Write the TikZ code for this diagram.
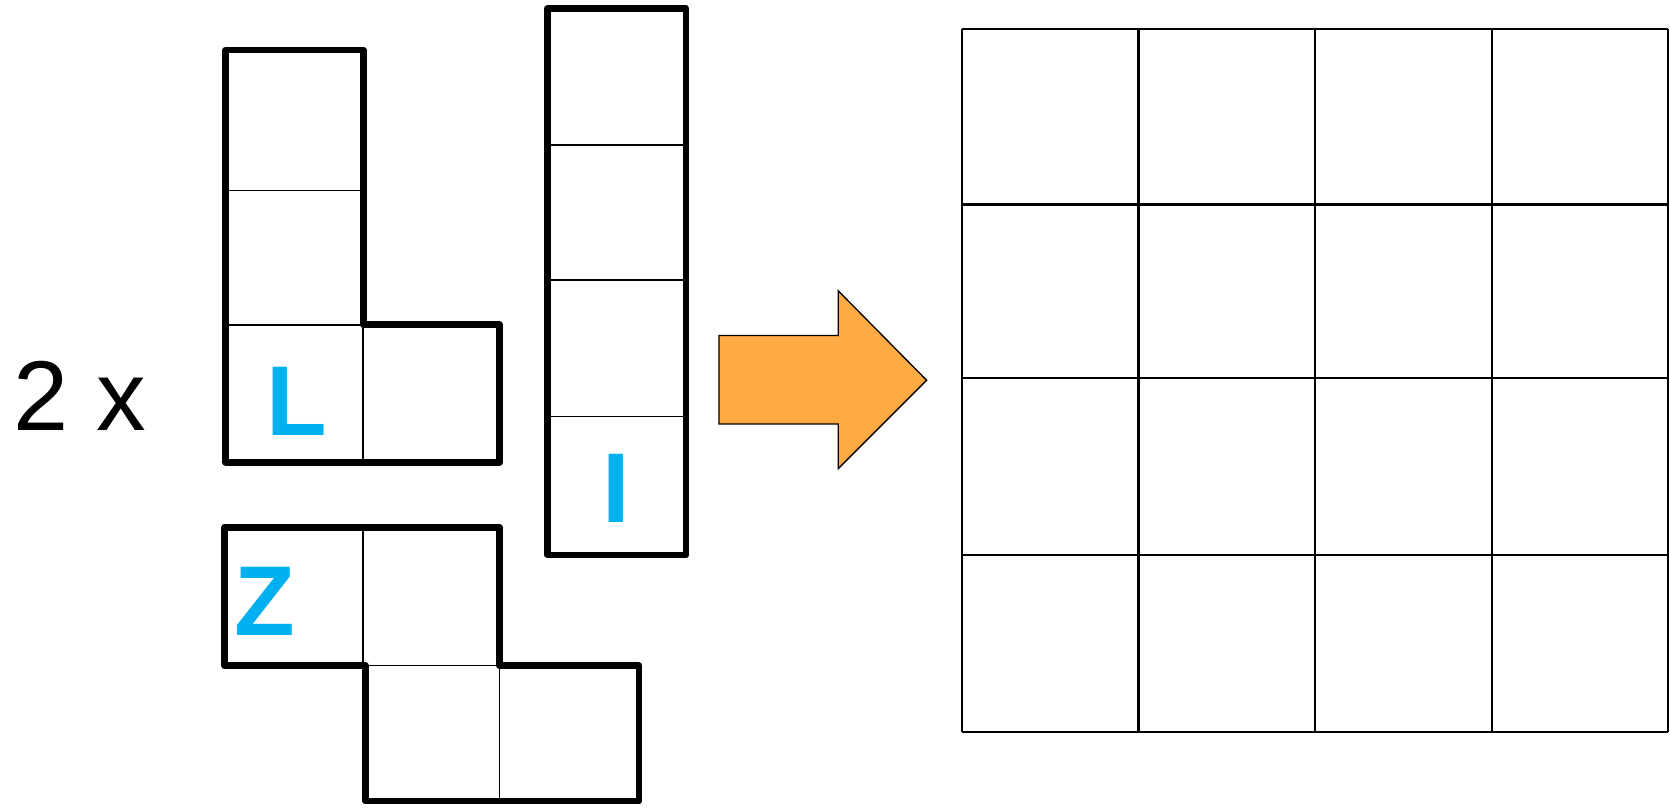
\documentclass[tikz,border=0pt]{standalone}
\usepackage{fontspec}
\setmainfont{Liberation Sans}
\definecolor{pieceblue}{RGB}{0,176,240}
\definecolor{arroworange}{RGB}{255,170,66}
\tikzset{
  piece/.style={line width=3.6pt, line join=round},
  cellline/.style={line width=0.8pt},
  gridline/.style={line width=1.2pt},
  tag/.style={text=pieceblue, font=\fontsize{53}{60}\selectfont\bfseries, anchor=base},
}
\begin{document}
\begin{tikzpicture}[x=0.2mm, y=-0.2mm]
  \useasboundingbox (0,0) rectangle (1568,758);
  \node[anchor=base, font=\fontsize{53}{60}\selectfont] (count) at (75,404) {2 x};
  % L piece
  \draw[cellline] (212,179) -- (339,179) (212,305) -- (341,305) (341,305) -- (341,434);
  \draw[piece] (212,47) -- (341,47) -- (341,305) -- (469,305) -- (469,434) -- (212,434) -- cycle;
  \node[tag] (lname) at (279,409) {L};
  % I piece
  \foreach \y in {136,263,391}
    \draw[cellline] (514,\y) -- (644,\y);
  \draw[piece] (514,8) rectangle (644,521);
  \node[tag] (iname) at (579,491) {I};
  % Z piece
  \draw[cellline] (341,495) -- (341,625) (343,625) -- (469,625) (469,625) -- (469,752);
  \draw[piece] (211,495) -- (469,495) -- (469,625) -- (600,625) -- (600,752) -- (343,752)
    -- (343,625) -- (211,625) -- cycle;
  \node[tag] (zname) at (249,597) {Z};
  % arrow
  \draw[fill=arroworange, line width=0.7pt, line join=miter] (675,315) -- (787,315) -- (787,273)
    -- (870,357) -- (787,440) -- (787,398) -- (675,398) -- cycle;
  % board
  \foreach \x in {903,1069,1235,1401,1566}
    \draw[gridline] (\x,27) -- (\x,687);
  \foreach \y in {27,192,355,521,687}
    \draw[gridline] (903,\y) -- (1566,\y);
\end{tikzpicture}
\end{document}
